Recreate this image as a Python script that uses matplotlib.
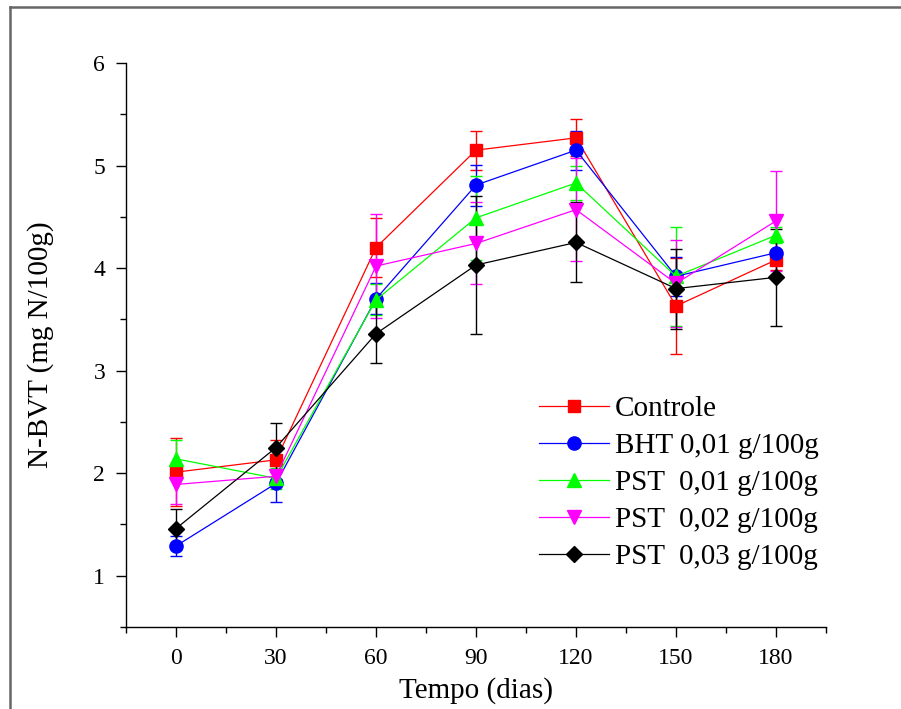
import numpy as np
import matplotlib.pyplot as plt
from matplotlib.lines import Line2D
from matplotlib.ticker import MultipleLocator

plt.rcParams['font.family'] = ['Liberation Serif', 'DejaVu Serif']

# Storage time (days)
dias = [0, 30, 60, 90, 120, 150, 180]

# N-BVT means and standard deviations
controle = [2.01, 2.13, 4.20, 5.15, 5.27, 3.63, 4.08]
controle_err = [0.33, 0.19, 0.29, 0.19, 0.18, 0.47, 0.10]
bht_001 = [1.29, 1.90, 3.70, 4.81, 5.15, 3.92, 4.15]
bht_001_err = [0.10, 0.18, 0.15, 0.20, 0.19, 0.19, 0.10]
pst_001 = [2.14, 1.95, 3.69, 4.49, 4.83, 3.92, 4.32]
pst_001_err = [0.18, 0.10, 0.15, 0.41, 0.17, 0.48, 0.08]
pst_002 = [1.89, 1.97, 4.02, 4.24, 4.57, 3.85, 4.46]
pst_002_err = [0.19, 0.05, 0.51, 0.40, 0.50, 0.42, 0.49]
pst_003 = [1.46, 2.25, 3.36, 4.03, 4.25, 3.80, 3.91]
pst_003_err = [0.19, 0.24, 0.29, 0.67, 0.39, 0.39, 0.47]

series = [
    ("Controle", controle, controle_err, "#FF0000", "s", 8.5),
    ("BHT 0,01 g/100g", bht_001, bht_001_err, "#0000FF", "o", 9.5),
    ("PST  0,01 g/100g", pst_001, pst_001_err, "#00FF00", "^", 10),
    ("PST  0,02 g/100g", pst_002, pst_002_err, "#FF00FF", "v", 10),
    ("PST  0,03 g/100g", pst_003, pst_003_err, "#000000", "D", 8.5),
]

fig = plt.figure(figsize=(9.01, 7.09), dpi=100)
ax = fig.add_axes([126 / 901, 1 - 627 / 709, 700 / 901, 564 / 709])

handles = []
for label, vals, err, color, marker, ms in series:
    eb = ax.errorbar(dias, vals, yerr=err, color=color, marker=marker,
                     markersize=ms, linewidth=0.9, elinewidth=1.0, capsize=4.5,
                     capthick=1.0, label=label)
    handles.append(eb[0])

ax.set_xlim(-15, 195)
ax.set_ylim(0.5, 6)
ax.xaxis.set_major_locator(MultipleLocator(30))
ax.xaxis.set_minor_locator(MultipleLocator(15))
ax.yaxis.set_major_locator(MultipleLocator(1))
ax.yaxis.set_minor_locator(MultipleLocator(0.5))
ax.spines['top'].set_visible(False)
ax.spines['right'].set_visible(False)
for s in ['left', 'bottom']:
    ax.spines[s].set_linewidth(1.0)
ax.tick_params(which='major', direction='out', length=7, width=1, labelsize=17, pad=8)
ax.tick_params(which='minor', direction='out', length=4, width=1)
ax.set_xticks(dias)

ax.set_xlabel("Tempo (dias)", fontsize=21, labelpad=6)
ax.set_ylabel("N-BVT (mg N/100g)", fontsize=21, labelpad=28)

ax.legend(handles, [s[0] for s in series], loc='upper left',
          bbox_to_anchor=(0.59, 0.41), frameon=False,
          fontsize=21, handlelength=2.4, handletextpad=0.2, labelspacing=0.36,
          borderpad=0, borderaxespad=0)

# outer frame (left and top edges) like the original export
x0 = 10 / 901
y0 = 1 - 7 / 709
fig.add_artist(Line2D([x0, x0], [0, y0], transform=fig.transFigure,
                      color='#666666', linewidth=1.8))
fig.add_artist(Line2D([x0, 1.05], [y0, y0], transform=fig.transFigure,
                      color='#666666', linewidth=1.8))

fig.savefig("out.png", dpi=100)
